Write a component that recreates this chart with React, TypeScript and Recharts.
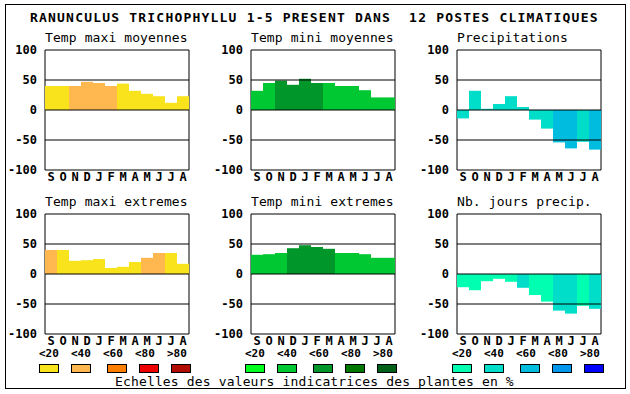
import { BarChart, Bar, Cell, XAxis, YAxis, ReferenceLine, ReferenceArea } from 'recharts'

const months = ['S', 'O', 'N', 'D', 'J', 'F', 'M', 'A', 'M', 'J', 'J', 'A']
const yTicks = [-100, -50, 0, 50, 100]
const classLabels = ['<20', '<40', '<60', '<80', '>80']

const tempMaxiMoy = [40, 40, 40, 47, 45, 40, 44, 32, 27, 23, 12, 23]
const tempMaxiMoyCls = [0, 0, 1, 1, 1, 1, 0, 0, 0, 0, 0, 0]
const tempMiniMoy = [32, 45, 49, 42, 52, 45, 45, 40, 40, 33, 21, 21]
const tempMiniMoyCls = [1, 1, 2, 2, 2, 2, 1, 1, 1, 1, 1, 1]
const precip = [-14, 32, 2, 10, 23, 5, -16, -31, -54, -64, -53, -66]
const precipCls = [1, 1, 1, 1, 1, 1, 1, 1, 2, 2, 1, 2]
const tempMaxiExt = [40, 40, 22, 23, 25, 10, 12, 20, 27, 35, 35, 17]
const tempMaxiExtCls = [1, 0, 0, 0, 0, 0, 0, 0, 1, 1, 0, 0]
const tempMiniExt = [32, 33, 35, 43, 48, 45, 42, 35, 35, 33, 27, 27]
const tempMiniExtCls = [1, 1, 1, 2, 2, 2, 2, 1, 1, 1, 1, 1]
const nbJours = [-22, -27, -12, -8, -13, -23, -35, -46, -61, -66, -53, -58]
const nbJoursCls = [0, 0, 0, 0, 0, 1, 0, 0, 1, 1, 0, 1]

const warm = ['#f8e31c', '#ffb84f', '#ff7f00', '#ee0000', '#b00c00']
const green = ['#00ff1c', '#00c832', '#00962a', '#007800', '#006018']
const blue = ['#00ffb0', '#00ddc8', '#00bde0', '#0096ec', '#0000ff']

const mono = '"DejaVu Sans Mono", "Liberation Mono", monospace'
const yTickStyle = { fontFamily: mono, fontWeight: 'bold' as const, fontSize: 12, fill: '#000' }
const xTickStyle = { fontFamily: mono, fontWeight: 'bold' as const, fontSize: 12, fill: '#000' }

function Panel({ title, left, top, values, cls, palette }: {
  title: string, left: number, top: number, values: number[], cls: number[], palette: string[]
}) {
  const data = months.map((m, i) => ({ m, v: values[i], c: cls[i] }))
  return (
    <>
      <div style={{ position: 'absolute', left, top: top - 20, fontFamily: mono, fontSize: 13, letterSpacing: 0.1, lineHeight: '16px', whiteSpace: 'pre' }}>{title}</div>
      <div style={{ position: 'absolute', left: left - 40, top: top - 10 }}>
        <BarChart width={190} height={154} data={data} margin={{ top: 10, right: 6, bottom: 4, left: 0 }} barCategoryGap={0} barGap={0}>
          <XAxis dataKey="m" height={20} tickLine={false} axisLine={false} tickSize={0} tickMargin={2} interval={0} tick={xTickStyle} />
          <YAxis width={40} domain={[-100, 100]} ticks={yTicks} tickLine={false} axisLine={false} interval={0} tick={yTickStyle} />
          <Bar dataKey="v" isAnimationActive={false}>
            {data.map((d, i) => <Cell key={i} fill={palette[d.c]} />)}
          </Bar>
          <ReferenceLine y={50} stroke="#000" />
          <ReferenceLine y={0} stroke="#000" />
          <ReferenceLine y={-50} stroke="#000" />
          <ReferenceArea y1={-100} y2={100} fill="none" stroke="#000" strokeOpacity={1} fillOpacity={0} />
        </BarChart>
      </div>
    </>
  )
}

function LegendGroup({ left, palette }: { left: number, palette: string[] }) {
  const swatchX = [0, 32, 68, 100, 132]
  return (
    <>
      {classLabels.map((l, i) => (
        <div key={'l' + i} style={{ position: 'absolute', left: left + 32 * i, top: 347, fontFamily: mono, fontWeight: 'bold', fontSize: 11, lineHeight: '14px' }}>{l}</div>
      ))}
      {palette.map((c, i) => (
        <div key={'s' + i} style={{ position: 'absolute', left: left + swatchX[i], top: 364, width: 20, height: 9, boxSizing: 'border-box', border: '1px solid #000', background: c }} />
      ))}
    </>
  )
}

export default function App() {
  return (
    <div style={{ position: 'absolute', left: 0, top: 0, width: 630, height: 394, background: '#fff' }}>
      <div style={{ position: 'absolute', left: 5, top: 4, width: 621, height: 385, boxSizing: 'border-box', border: '1px solid #000' }} />
      <div style={{ position: 'absolute', left: 30, top: 10, fontFamily: mono, fontWeight: 'bold', fontSize: 13, letterSpacing: 1.2, lineHeight: '16px', whiteSpace: 'pre' }}>
        RANUNCULUS TRICHOPHYLLU 1-5 PRESENT DANS  12 POSTES CLIMATIQUES
      </div>
      <Panel title="Temp maxi moyennes" left={45} top={50} values={tempMaxiMoy} cls={tempMaxiMoyCls} palette={warm} />
      <Panel title="Temp mini moyennes" left={251} top={50} values={tempMiniMoy} cls={tempMiniMoyCls} palette={green} />
      <Panel title="Precipitations" left={457} top={50} values={precip} cls={precipCls} palette={blue} />
      <Panel title="Temp maxi extremes" left={45} top={214} values={tempMaxiExt} cls={tempMaxiExtCls} palette={warm} />
      <Panel title="Temp mini extremes" left={251} top={214} values={tempMiniExt} cls={tempMiniExtCls} palette={green} />
      <Panel title="Nb. jours precip." left={457} top={214} values={nbJours} cls={nbJoursCls} palette={blue} />
      <LegendGroup left={39} palette={warm} />
      <LegendGroup left={245} palette={green} />
      <LegendGroup left={452} palette={blue} />
      <div style={{ position: 'absolute', left: 115, top: 374, fontFamily: mono, fontSize: 13, letterSpacing: 0.15, lineHeight: '16px', whiteSpace: 'pre' }}>
        Echelles des valeurs indicatrices des plantes en %
      </div>
    </div>
  )
}
